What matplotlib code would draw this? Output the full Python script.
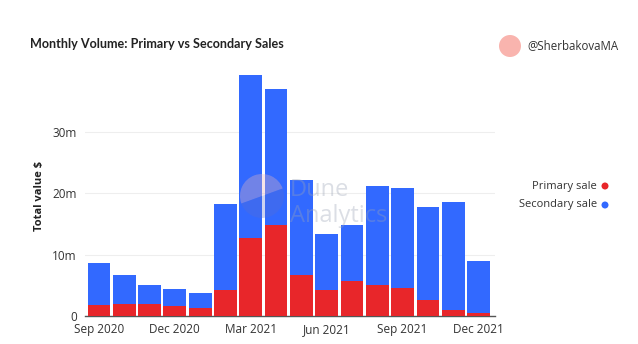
import matplotlib
matplotlib.use("Agg")
import matplotlib.pyplot as plt
from matplotlib.patches import Circle, Wedge
import numpy as np

months = ["Sep 2020", "Oct 2020", "Nov 2020", "Dec 2020", "Jan 2021", "Feb 2021",
          "Mar 2021", "Apr 2021", "May 2021", "Jun 2021", "Jul 2021", "Aug 2021",
          "Sep 2021", "Oct 2021", "Nov 2021", "Dec 2021"]
# total and primary values in millions $
total = [8.57, 6.67, 5.0, 4.45, 3.69, 18.15, 39.2, 36.9, 22.1, 13.3, 14.85, 21.2,
         20.9, 17.8, 18.5, 8.94]
primary = [1.74, 2.0, 2.0, 1.63, 1.25, 4.28, 12.7, 14.8, 6.67, 4.23, 5.69, 4.99,
           4.6, 2.6, 0.98, 0.43]
secondary = [t - p for t, p in zip(total, primary)]
tick_labels = ["Sep 2020", "Dec 2020", "Mar 2021", "Jun 2021", "Sep 2021", "Dec 2021"]

RED = "#E8262A"
BLUE = "#3269FF"
plt.rcParams['font.family'] = ["Open Sans", "DejaVu Sans"]

W, H = 638, 344
fig = plt.figure(figsize=(W / 100, H / 100), dpi=100)
ax = fig.add_axes([85 / W, 28 / H, 410 / W, 252 / H])

x = np.arange(len(months))
prim_m = np.array(primary) * 1e6
sec_m = np.array(secondary) * 1e6
ax.bar(x, prim_m, width=0.9, color=RED, zorder=3)
ax.bar(x, sec_m, width=0.9, bottom=prim_m, color=BLUE, zorder=3)

ax.set_xlim(-0.55, 15.65)
ax.set_ylim(0, 41e6)
ax.set_yticks([0, 10e6, 20e6, 30e6])
ax.set_yticklabels(["0", "10m", "20m", "30m"])
ticks = [months.index(t) for t in tick_labels]
ax.set_xticks(ticks)
ax.set_xticklabels(tick_labels)
ax.tick_params(axis='both', length=0, labelsize=8.5, colors="#333333")
ax.tick_params(axis='x', pad=5)
ax.tick_params(axis='y', pad=6)
ax.grid(axis='y', color="#eeeeee", linewidth=0.8, zorder=0)
for s in ["top", "right", "left"]:
    ax.spines[s].set_visible(False)
ax.spines["bottom"].set_color("#555555")
ax.spines["bottom"].set_linewidth(1.0)
ax.set_ylabel("Total value $", fontsize=8, fontweight="bold", color="#222222")
ax.yaxis.set_label_coords((45 - 85) / 410, (316 - 196) / 252)


def px_circle(cx, cy, r, **kw):
    return Circle((cx / 100, (H - cy) / 100), r / 100, transform=fig.dpi_scale_trans, **kw)


# Watermark
fig.patches.append(Wedge((262 / 100, (H - 196) / 100), 0.22, 20, 200,
                         transform=fig.dpi_scale_trans, facecolor="#e9b6bd", alpha=0.35,
                         edgecolor="none", zorder=5))
fig.patches.append(Wedge((262 / 100, (H - 196) / 100), 0.22, 200, 380,
                         transform=fig.dpi_scale_trans, facecolor="#5a6fd0", alpha=0.3,
                         edgecolor="none", zorder=5))
fig.text(290 / W, 1 - 190 / H, "Dune", fontsize=17, color="#9aa3b5", alpha=0.35,
         va="center", ha="left")
fig.text(290 / W, 1 - 216 / H, "Analytics", fontsize=17, color="#9aa3b5", alpha=0.35,
         va="center", ha="left")

# Title
fig.text(30 / W, 1 - 44 / H, "Monthly Volume: Primary vs Secondary Sales",
         fontsize=9.1, fontweight="bold", color="#222222", va="center", ha="left",
         family=["Lato", "DejaVu Sans"])

# Author badge
fig.patches.append(px_circle(510, 46, 11, facecolor="#F9B4AE", edgecolor="none"))
fig.text(527 / W, 1 - 46 / H, "@SherbakovaMA", fontsize=8.3, color="#333333",
         va="center", ha="left")

# Legend
fig.text(597 / W, 1 - 186 / H, "Primary sale", fontsize=8, color="#333333",
         va="center", ha="right")
fig.text(597 / W, 1 - 205 / H, "Secondary sale", fontsize=8, color="#333333",
         va="center", ha="right")
fig.patches.append(px_circle(605, 186, 3.5, facecolor=RED, edgecolor="none"))
fig.patches.append(px_circle(605, 205, 3.5, facecolor=BLUE, edgecolor="none"))

fig.savefig("out.png", dpi=100)
